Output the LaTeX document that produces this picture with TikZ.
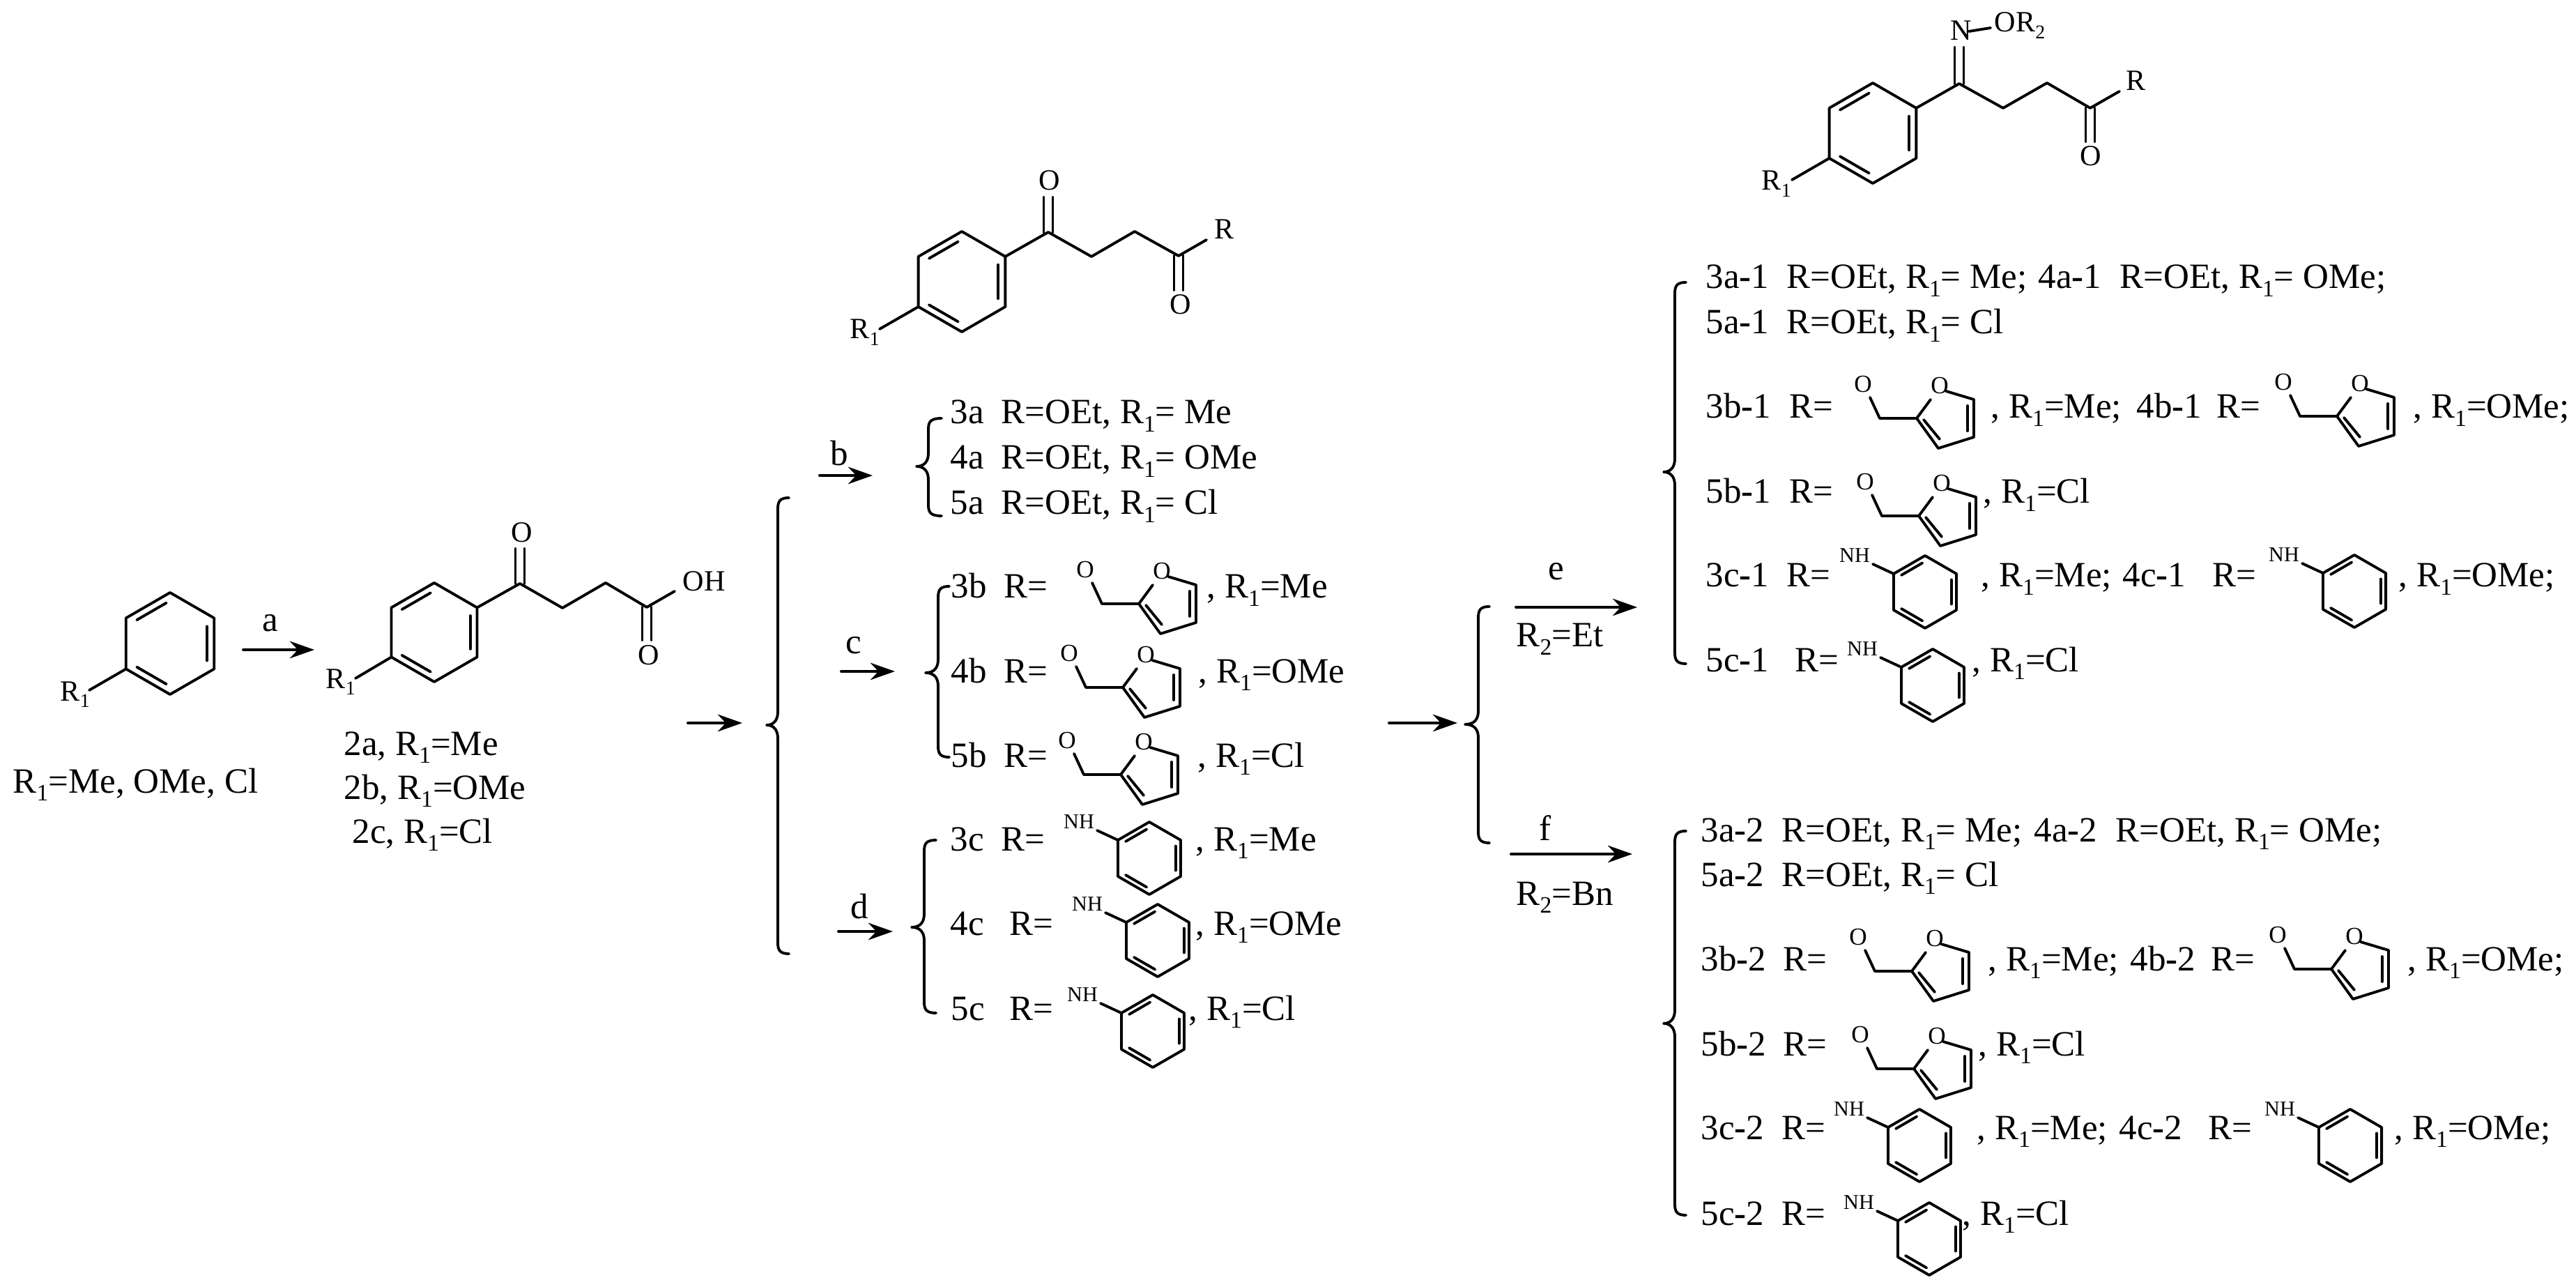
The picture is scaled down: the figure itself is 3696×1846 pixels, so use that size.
\documentclass[tikz,border=0pt]{standalone}
\usepackage{fontspec}
\setmainfont{Liberation Serif}
\usetikzlibrary{arrows.meta}

\newcommand{\subn}[1]{\raisebox{-.22em}{\scalebox{.66}{#1}}}
\newcommand{\Rone}{R\subn{1}}
\newcommand{\hy}{\textbf{-}}
\newcommand{\dbond}[2]{\draw[bond] ([xshift=-1.85pt]#1) -- ([xshift=-1.85pt]#2) ([xshift=1.85pt]#1) -- ([xshift=1.85pt]#2);}
\newcommand{\chembrace}[6]{\draw[bond] (#1,#4) .. controls (#2+3,#4) and (#2,#4+5) .. (#2,#4+16) -- (#2,#5-19) .. controls (#2,#5-7) and (#2-6,#5) .. (#3,#5) .. controls (#2-6,#5) and (#2,#5+7) .. (#2,#5+19) -- (#2,#6-16) .. controls (#2,#6-5) and (#2+3,#6) .. (#1,#6);}

\tikzset{
  bond/.style={black,line width=1.1pt,line join=round,line cap=round},
  rxnarrow/.style={bond,-{Stealth[length=10pt,width=7pt]}},
  lab/.style={inner sep=0,anchor=base west,font=\fontsize{14.5}{16}\selectfont},
  letter/.style={inner sep=0,anchor=base,font=\fontsize{14.5}{16}\selectfont},
  atom/.style={inner sep=0,anchor=base,font=\fontsize{12}{14}\selectfont},
  atomw/.style={inner sep=0,anchor=base west,font=\fontsize{12}{14}\selectfont},
  smallatom/.style={inner sep=0,font=\fontsize{10}{12}\selectfont},
  nhatom/.style={inner sep=1pt,font=\fontsize{8.6}{10}\selectfont},
  pics/benz/.style={code={
    \coordinate (-t) at (0,-#1);
    \coordinate (-ur) at (0.866*#1,-0.5*#1);
    \coordinate (-lr) at (0.866*#1,0.5*#1);
    \coordinate (-b) at (0,#1);
    \coordinate (-ll) at (-0.866*#1,0.5*#1);
    \coordinate (-ul) at (-0.866*#1,-0.5*#1);
    \draw[bond] (-t)--(-ur)--(-lr)--(-b)--(-ll)--(-ul)--cycle;
    \draw[bond] (-0.654*#1,-0.462*#1)--(-0.073*#1,-0.798*#1);
    \draw[bond] (0.727*#1,-0.336*#1)--(0.727*#1,0.336*#1);
    \draw[bond] (-0.654*#1,0.462*#1)--(-0.073*#1,0.798*#1);
  }},
  pics/anil/.style={code={
    \pic (-r) at (0,0) {benz=52};
    \node[nhatom] (-nh) at (-101,-52) {NH};
    \draw[bond] (-nh)--(-r-ul);
  }},
  pics/furyl/.style={code={
    \node[smallatom] (-oa) at (-77,-49) {O};
    \node[smallatom] (-ob) at (33,-47) {O};
    \coordinate (-oae) at (-67,-30);
    \coordinate (-obe) at (20,-27);
    \coordinate (-obf) at (42,-39);
    \coordinate (-c2) at (0,0);
    \coordinate (-ch) at (-53,0);
    \coordinate (-cu) at (82,-27);
    \coordinate (-cl) at (82,27);
    \coordinate (-cb) at (31,43);
    \draw[bond] (-oae)--(-ch)--(-c2)--(-obe);
    \draw[bond] (-obf)--(-cu)--(-cl)--(-cb)--(-c2);
    \draw[bond] (73,-18)--(73,18);
    \draw[bond] (10,2)--(33,30);
  }}
}

\begin{document}
\begin{tikzpicture}[x=0.01cm,y=-0.01cm]
\useasboundingbox (0,0) rectangle (3696,1846);

% starting arene
\pic (m1) at (244,923) {benz=73};
\node[atomw] (r1a) at (86,1005) {\Rone};
\coordinate (r1ae) at (128,990);
\draw[bond] (m1-ll)--(r1ae);
\node[lab] (t1) at (18,1137) {\Rone=Me, OMe, Cl};

\coordinate (aS) at (349,932);
\coordinate (aE) at (451,932);
\draw[rxnarrow] (aS)--(aE);
\node[letter] (la) at (388,906) {a};

% keto acid
\pic (m2) at (623,907) {benz=71};
\coordinate (m2c1) at (746,837);
\coordinate (m2c2) at (807,872);
\coordinate (m2c3) at (869,836);
\coordinate (m2c4) at (928,871);
\coordinate (m2o1e) at (746,787);
\coordinate (m2o2e) at (928,918);
\coordinate (m2ohe) at (968,848);
\coordinate (m2re) at (510,973);
\draw[bond] (m2-ur)--(m2c1)--(m2c2)--(m2c3)--(m2c4)--(m2ohe);
\draw[bond] (m2-ll)--(m2re);
\dbond{m2c1}{m2o1e}
\dbond{m2c4}{m2o2e}
\node[atom] (m2o1) at (749,778) {O};
\node[atom] (m2o2) at (931,953) {O};
\node[atomw] (m2oh) at (979,847) {OH};
\node[atomw] (r1b) at (467,987) {\Rone};
\node[lab] (t2a) at (493,1083) {2a, \Rone=Me};
\node[lab] (t2b) at (493,1146) {2b, \Rone=OMe};
\node[lab] (t2c) at (505,1209) {2c, \Rone=Cl};

\coordinate (xS) at (987,1037);
\coordinate (xE) at (1065,1037);
\draw[rxnarrow] (xS)--(xE);
\chembrace{1132}{1116}{1100}{714}{1040}{1368}

% keto ester / amide
\pic (m3) at (1380,404) {benz=72};
\coordinate (m3c1) at (1504,333);
\coordinate (m3c2) at (1566,368);
\coordinate (m3c3) at (1628,332);
\coordinate (m3c4) at (1691,367);
\coordinate (m3o1e) at (1504,283);
\coordinate (m3o2e) at (1691,416);
\coordinate (m3re) at (1731,344);
\coordinate (m3r1e) at (1262,472);
\draw[bond] (m3-ur)--(m3c1)--(m3c2)--(m3c3)--(m3c4)--(m3re);
\draw[bond] (m3-ll)--(m3r1e);
\dbond{m3c1}{m3o1e}
\dbond{m3c4}{m3o2e}
\node[atom] (m3o1) at (1506,273) {O};
\node[atom] (m3o2) at (1694,451) {O};
\node[atomw] (m3r) at (1742,343) {R};
\node[atomw] (r1c) at (1219,486) {\Rone};

\coordinate (bS) at (1176,682);
\coordinate (bE) at (1252,682);
\draw[rxnarrow] (bS)--(bE);
\node[letter] (lb) at (1204,668) {b};
\chembrace{1351}{1332}{1315}{600}{669}{740}
\node[lab] (n3a) at (1363,608) {3a};
\node[lab] (v3a) at (1436,608) {R=OEt, \Rone= Me};
\node[lab] (n4a) at (1363,673) {4a};
\node[lab] (v4a) at (1436,673) {R=OEt, \Rone= OMe};
\node[lab] (n5a) at (1363,738) {5a};
\node[lab] (v5a) at (1436,738) {R=OEt, \Rone= Cl};

\coordinate (cS) at (1207,963);
\coordinate (cE) at (1284,963);
\draw[rxnarrow] (cS)--(cE);
\node[letter] (lc) at (1225,938) {c};
\chembrace{1362}{1346}{1328}{841}{965}{1086}
\node[lab] (n3b) at (1364,858) {3b};
\node[lab] (e3b) at (1440,858) {R=};
\pic (f3b) at (1634,866) {furyl};
\node[lab] (v3b) at (1731,858) {, \Rone=Me};
\node[lab] (n4b) at (1364,979) {4b};
\node[lab] (e4b) at (1440,979) {R=};
\pic (f4b) at (1611,986) {furyl};
\node[lab] (v4b) at (1719,979) {, \Rone=OMe};
\node[lab] (n5b) at (1364,1100) {5b};
\node[lab] (e5b) at (1440,1100) {R=};
\pic (f5b) at (1608,1111) {furyl};
\node[lab] (v5b) at (1718,1100) {, \Rone=Cl};

\coordinate (dS) at (1203,1336);
\coordinate (dE) at (1281,1336);
\draw[rxnarrow] (dS)--(dE);
\node[letter] (ld) at (1233,1317) {d};
\chembrace{1343}{1326}{1308}{1205}{1330}{1453}
\node[lab] (n3c) at (1363,1220) {3c};
\node[lab] (e3c) at (1436,1220) {R=};
\pic (a3c) at (1649,1231) {anil};
\node[lab] (v3c) at (1715,1220) {, \Rone=Me};
\node[lab] (n4c) at (1363,1341) {4c};
\node[lab] (e4c) at (1448,1341) {R=};
\pic (a4c) at (1661,1349) {anil};
\node[lab] (v4c) at (1715,1341) {, \Rone=OMe};
\node[lab] (n5c) at (1364,1463) {5c};
\node[lab] (e5c) at (1448,1463) {R=};
\pic (a5c) at (1654,1479) {anil};
\node[lab] (v5c) at (1705,1463) {, \Rone=Cl};

% second split
\coordinate (yS) at (1993,1037);
\coordinate (yE) at (2091,1037);
\draw[rxnarrow] (yS)--(yE);
\chembrace{2137}{2121}{2102}{870}{1039}{1209}
\coordinate (eS) at (2175,871);
\coordinate (eE) at (2349,871);
\draw[rxnarrow] (eS)--(eE);
\node[letter] (le) at (2233,832) {e};
\node[lab] (r2e) at (2175,928) {R\subn{2}=Et};
\coordinate (fS) at (2168,1225);
\coordinate (fE) at (2342,1225);
\draw[rxnarrow] (fS)--(fE);
\node[letter] (lf) at (2217,1205) {f};
\node[lab] (r2f) at (2175,1298) {R\subn{2}=Bn};

% oxime
\pic (m4) at (2687,191) {benz=72};
\coordinate (m4c1) at (2811,120);
\coordinate (m4c2) at (2874,155);
\coordinate (m4c3) at (2937,119);
\coordinate (m4c4) at (2999,155);
\coordinate (m4ne) at (2811,68);
\coordinate (m4oe) at (2999,203);
\coordinate (m4re) at (3041,131);
\coordinate (m4r1e) at (2571,258);
\coordinate (m4nb) at (2825,45);
\coordinate (m4ob) at (2856,40);
\draw[bond] (m4-ur)--(m4c1)--(m4c2)--(m4c3)--(m4c4)--(m4re);
\draw[bond] (m4-ll)--(m4r1e);
\draw[bond] (m4nb)--(m4ob);
\dbond{m4c1}{m4ne}
\dbond{m4c4}{m4oe}
\node[atom] (m4n) at (2814,58) {N};
\node[atomw] (m4or) at (2861,46) {OR\subn{2}};
\node[atom] (m4o) at (3000,238) {O};
\node[atomw] (m4r) at (3050,130) {R};
\node[atomw] (r1d) at (2527,273) {\Rone};

% series 1
\chembrace{2419}{2403}{2387}{405}{677}{952}
\node[lab] (n3a1) at (2447,414) {3a\hy 1};
\node[lab] (v3a1) at (2563,414) {R=OEt, \Rone= Me;};
\node[lab] (n4a1) at (2924,414) {4a\hy 1};
\node[lab] (v4a1) at (3041,414) {R=OEt, \Rone= OMe;};
\node[lab] (n5a1) at (2447,479) {5a\hy 1};
\node[lab] (v5a1) at (2563,479) {R=OEt, \Rone= Cl};

\node[lab] (n3b1) at (2447,600) {3b\hy 1};
\node[lab] (e3b1) at (2567,600) {R=};
\pic (f3b1) at (2750,600) {furyl};
\node[lab] (v3b1) at (2856,600) {, \Rone=Me;};
\node[lab] (n4b1) at (3065,600) {4b\hy 1};
\node[lab] (e4b1) at (3180,600) {R=};
\pic (f4b1) at (3353,597) {furyl};
\node[lab] (v4b1) at (3462,600) {, \Rone=OMe;};
\node[lab] (n5b1) at (2447,722) {5b\hy 1};
\node[lab] (e5b1) at (2567,722) {R=};
\pic (f5b1) at (2753,740) {furyl};
\node[lab] (v5b1) at (2845,722) {, \Rone=Cl};

\node[lab] (n3c1) at (2447,842) {3c\hy 1};
\node[lab] (e3c1) at (2563,842) {R=};
\pic (a3c1) at (2762,849) {anil};
\node[lab] (v3c1) at (2842,842) {, \Rone=Me;};
\node[lab] (n4c1) at (3045,842) {4c\hy 1};
\node[lab] (e4c1) at (3174,842) {R=};
\pic (a4c1) at (3378,848) {anil};
\node[lab] (v4c1) at (3441,842) {, \Rone=OMe;};
\node[lab] (n5c1) at (2447,963) {5c\hy 1};
\node[lab] (e5c1) at (2575,963) {R=};
\pic (a5c1) at (2773,983) {anil};
\node[lab] (v5c1) at (2829,963) {, \Rone=Cl};

% series 2
\chembrace{2419}{2403}{2387}{1192}{1468}{1743}
\node[lab] (n3a2) at (2440,1207) {3a\hy 2};
\node[lab] (v3a2) at (2556,1207) {R=OEt, \Rone= Me;};
\node[lab] (n4a2) at (2918,1207) {4a\hy 2};
\node[lab] (v4a2) at (3035,1207) {R=OEt, \Rone= OMe;};
\node[lab] (n5a2) at (2440,1271) {5a\hy 2};
\node[lab] (v5a2) at (2556,1271) {R=OEt, \Rone= Cl};

\node[lab] (n3b2) at (2440,1392) {3b\hy 2};
\node[lab] (e3b2) at (2558,1392) {R=};
\pic (f3b2) at (2743,1393) {furyl};
\node[lab] (v3b2) at (2852,1392) {, \Rone=Me;};
\node[lab] (n4b2) at (3056,1392) {4b\hy 2};
\node[lab] (e4b2) at (3172,1392) {R=};
\pic (f4b2) at (3345,1390) {furyl};
\node[lab] (v4b2) at (3454,1392) {, \Rone=OMe;};
\node[lab] (n5b2) at (2440,1514) {5b\hy 2};
\node[lab] (e5b2) at (2558,1514) {R=};
\pic (f5b2) at (2746,1533) {furyl};
\node[lab] (v5b2) at (2838,1514) {, \Rone=Cl};

\node[lab] (n3c2) at (2440,1634) {3c\hy 2};
\node[lab] (e3c2) at (2556,1634) {R=};
\pic (a3c2) at (2754,1643) {anil};
\node[lab] (v3c2) at (2836,1634) {, \Rone=Me;};
\node[lab] (n4c2) at (3040,1634) {4c\hy 2};
\node[lab] (e4c2) at (3168,1634) {R=};
\pic (a4c2) at (3372,1643) {anil};
\node[lab] (v4c2) at (3435,1634) {, \Rone=OMe;};
\node[lab] (n5c2) at (2440,1757) {5c\hy 2};
\node[lab] (e5c2) at (2556,1757) {R=};
\pic (a5c2) at (2768,1777) {anil};
\node[lab] (v5c2) at (2815,1757) {, \Rone=Cl};

\end{tikzpicture}
\end{document}
